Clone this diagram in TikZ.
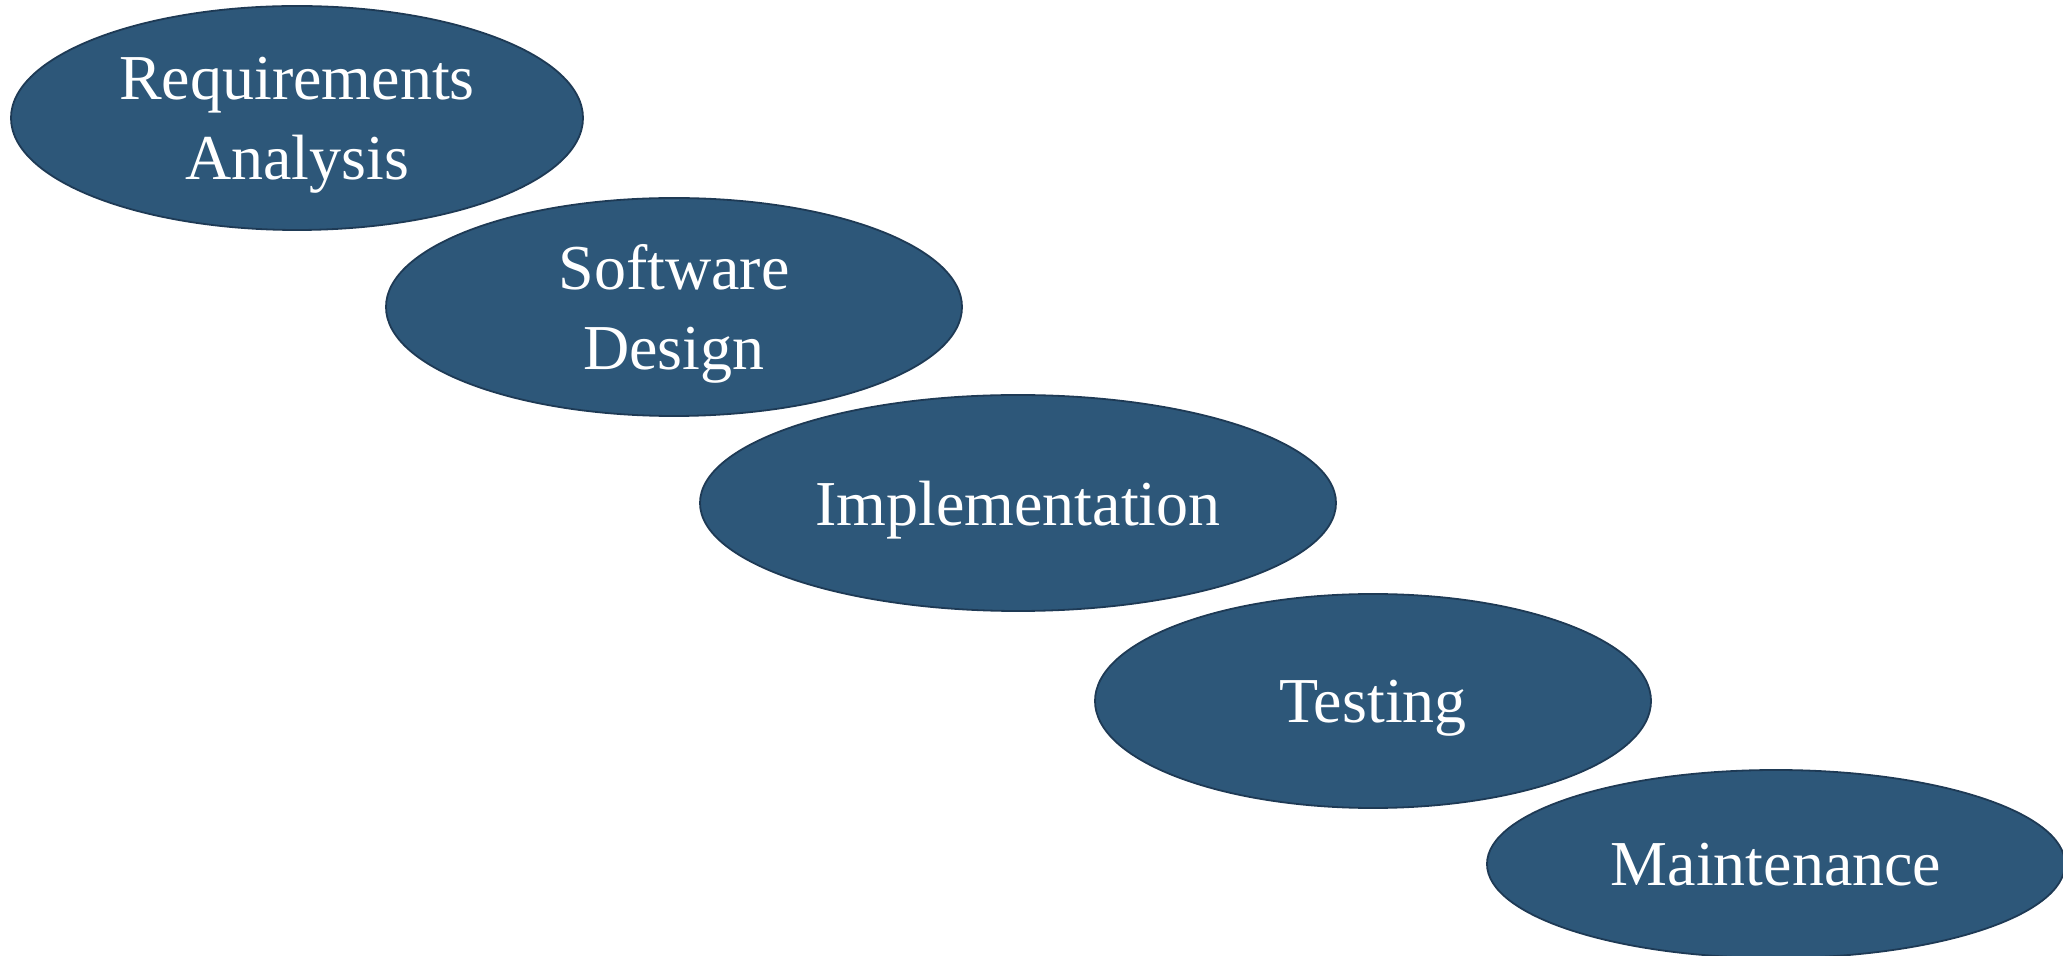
\documentclass[tikz,border=0pt]{standalone}
\usepackage{fontspec}
\setmainfont{Liberation Serif}
\usetikzlibrary{shapes.geometric}
\definecolor{stagefill}{HTML}{2D5779}
\definecolor{stageline}{HTML}{1E3A55}
\tikzset{
  stage/.style={
    ellipse,
    inner sep=0mm,
    outer sep=0mm,
    fill=stagefill,
    draw=stageline,
    line width=0.9pt,
    text=white,
    align=center,
    text depth=0pt,
    font=\fontsize{32}{40}\selectfont
  }
}

\begin{document}
\begin{tikzpicture}[x=0.5pt,y=-0.5pt]
    \useasboundingbox (0,0) rectangle (2063,956);
    \node[stage,minimum width=286pt,minimum height=112pt] (req) at (297,118) {Requirements\\Analysis};
    \node[stage,minimum width=288pt,minimum height=109pt] (design) at (674,307) {Software\\Design};
    \node[stage,minimum width=318pt,minimum height=108pt] (impl) at (1018,503) {Implementation};
    \node[stage,minimum width=278pt,minimum height=107pt] (test) at (1373,701) {Testing};
    \node[stage,minimum width=289pt,minimum height=94pt] (maint) at (1776,864) {Maintenance};
\end{tikzpicture}
\end{document}
